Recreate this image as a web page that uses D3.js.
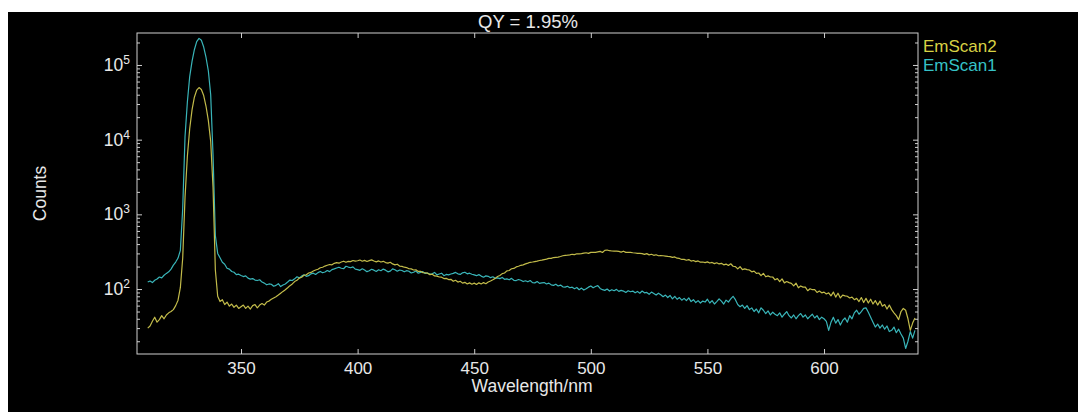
<!DOCTYPE html>
<html><head><meta charset="utf-8">
<script src="https://cdn.jsdelivr.net/npm/d3@7"></script>
<style>body{margin:0;background:#fff}svg{display:block}text{font-family:"Liberation Sans",Arial,sans-serif}</style>
</head><body><svg id="c" width="1078" height="412"></svg>
<script>
const title = "QY = 1.95%";
const xLabel = "Wavelength/nm";
const yLabel = "Counts";
const seriesNames = ["EmScan2", "EmScan1"];
const xTicks = [350, 400, 450, 500, 550, 600];
const yTickExps = [2, 3, 4, 5];
// sampling grid: 310 ... 639 nm, 1 nm steps
const wavelengths = d3.range(310, 640, 1);

const emScan1 = [
124,128,122,131,136,145,141,153,162,170,
185,209,230,260,330,1200,11000,32000,70000,112000,
160000,205000,227000,214000,174000,126000,83000,40000,6300,520,
300,262,228,215,190,185,172,168,156,158,
152,147,150,140,136,138,132,130,133,124,
120,114,117,116,109,112,118,108,113,117,
124,132,130,137,146,141,149,155,148,151,
160,163,157,166,172,165,169,177,171,182,
186,191,196,190,187,202,197,193,198,185,
182,178,187,180,171,176,184,179,172,181,
176,185,179,170,174,186,181,173,180,177,
170,176,173,164,168,174,163,167,171,162,
164,158,160,167,155,159,163,151,157,155,
159,162,167,160,157,165,168,160,163,158,
155,151,156,149,144,150,148,142,146,139,
141,138,143,135,137,133,139,131,130,134,
131,126,129,125,130,122,121,126,119,121,
122,117,120,114,112,116,110,113,107,106,
109,104,106,101,105,98,103,97,101,106,
110,104,108,111,102,98,96,100,94,98,
95,99,93,96,94,90,95,92,94,89,
93,88,94,89,90,85,91,87,83,88,
84,79,83,77,82,74,80,73,77,71,
75,70,76,68,72,66,70,65,69,67,
73,65,70,63,68,74,69,63,71,67,
74,80,72,62,58,61,55,60,53,56,
50,54,48,56,52,47,51,45,49,46,
44,48,42,46,50,44,41,45,40,44,
47,42,45,40,43,46,41,44,39,42,
40,37,28,36,42,35,39,33,38,41,
36,44,40,48,52,46,50,55,56,49,
42,36,31,34,30,33,29,32,27,28,
31,26,29,25,22,16,20,27,22,28
];

const emScan2 = [
30,32,37,42,36,39,44,40,45,48,
50,53,60,71,105,260,1700,6000,14000,25000,
37000,46000,49800,47000,39000,28000,18000,9500,2300,180,
80,68,72,62,67,59,63,57,61,55,
58,61,55,59,54,60,62,56,61,64,
61,67,69,73,76,79,83,88,93,98,
104,111,117,126,131,140,144,153,155,164,
167,174,180,184,193,196,203,208,213,211,
221,226,222,230,236,228,235,233,241,236,
239,245,236,242,234,240,246,237,231,238,
230,235,226,222,228,217,211,215,203,201,
196,194,187,186,180,181,172,173,166,165,
163,156,158,150,149,145,144,138,139,134,
135,127,131,124,127,120,123,117,121,116,
120,115,121,117,122,118,124,128,133,139,
147,152,161,164,175,177,187,189,198,202,
208,211,217,222,228,230,233,236,241,244,
248,251,257,257,264,266,268,273,279,282,
284,287,292,289,297,296,298,302,306,300,
310,311,309,314,319,309,330,333,326,323,
322,322,319,312,321,310,311,309,306,304,
301,301,298,291,298,287,292,283,288,279,
280,279,276,273,272,265,269,259,257,249,
250,243,248,237,241,233,238,229,230,226,
231,223,227,219,225,217,221,211,216,207,
218,202,200,186,199,182,186,182,180,170,
174,162,164,151,162,146,150,145,145,133,
138,126,137,121,126,122,119,110,120,104,
110,106,106,95,101,98,98,90,94,89,
91,86,89,81,91,78,88,76,83,81,
80,76,78,72,75,68,77,66,75,65,
73,63,70,61,69,59,62,54,61,53,
48,44,39,50,55,52,40,28,35,41
];

const svg = d3.select("#c");
const W = 1078, H = 412;
const L = 137, R = 918, T = 33, B = 354;
const axisColor = "#cfcfcf", textColor = "#e8e8e8";
const lineColors = {EmScan2: "#c2bb4a", EmScan1: "#39b5b9"};
const legendColors = {EmScan2: "#d8d244", EmScan1: "#36c2c7"};

svg.append("rect").attr("x", 8).attr("y", 12).attr("width", W - 8).attr("height", H - 12).attr("fill", "#000");

const x = d3.scaleLinear().domain([305.4, 640.3]).range([L, R]);
const y = d3.scaleLog().domain([13.5, 268000]).range([B, T]);

svg.append("clipPath").attr("id", "pc").append("rect")
  .attr("x", L).attr("y", T).attr("width", R - L).attr("height", B - T);

const line = d3.line().x((d, i) => x(wavelengths[i])).y(d => y(d));
const plot = svg.append("g").attr("clip-path", "url(#pc)");
plot.append("path").datum(emScan1).attr("d", line).attr("fill", "none")
  .attr("stroke", lineColors.EmScan1).attr("stroke-width", 1.2).attr("stroke-linejoin", "round");
plot.append("path").datum(emScan2).attr("d", line).attr("fill", "none")
  .attr("stroke", lineColors.EmScan2).attr("stroke-width", 1.2).attr("stroke-linejoin", "round");

function styleAxis(g) {
  g.select(".domain").remove();
  g.selectAll("line").attr("stroke", axisColor);
  g.selectAll("text").attr("fill", textColor).attr("font-size", 17)
    .attr("font-family", '"Liberation Sans",Arial,sans-serif');
}

svg.append("g").attr("transform", `translate(0,${B})`)
  .call(d3.axisBottom(x).tickValues(xTicks).tickSize(-5).tickSizeOuter(0).tickPadding(8))
  .call(styleAxis);
svg.append("g").attr("transform", `translate(0,${T})`)
  .call(d3.axisTop(x).tickValues(xTicks).tickSize(-5).tickSizeOuter(0).tickFormat(""))
  .call(styleAxis);

const majorY = yTickExps.map(e => Math.pow(10, e));
const minorY = y.ticks().filter(v => !majorY.includes(v));
[[d3.axisLeft, L], [d3.axisRight, R]].forEach(([ax, pos]) => {
  svg.append("g").attr("transform", `translate(${pos},0)`)
    .call(ax(y).tickValues(majorY).tickSize(-5).tickSizeOuter(0).tickFormat(""))
    .call(styleAxis);
  svg.append("g").attr("transform", `translate(${pos},0)`)
    .call(ax(y).tickValues(minorY).tickSize(-3).tickSizeOuter(0).tickFormat(""))
    .call(styleAxis);
});

const yl = svg.append("g");
yTickExps.forEach(e => {
  const t = yl.append("text").attr("x", 130).attr("y", y(Math.pow(10, e)) + 6)
    .attr("text-anchor", "end").attr("fill", textColor).attr("font-size", 17.5);
  t.append("tspan").text("10");
  t.append("tspan").attr("dy", -7).attr("font-size", 12).text(String(e));
});

svg.append("rect").attr("x", L).attr("y", T).attr("width", R - L).attr("height", B - T)
  .attr("fill", "none").attr("stroke", axisColor).attr("stroke-width", 1);

svg.append("text").attr("x", 528).attr("y", 28).attr("text-anchor", "middle")
  .attr("fill", textColor).attr("font-size", 18.5).text(title);
svg.append("text").attr("x", 532).attr("y", 392).attr("text-anchor", "middle")
  .attr("fill", textColor).attr("font-size", 17.5).text(xLabel);
svg.append("text").attr("transform", `translate(46,${(T + B) / 2}) rotate(-90)`)
  .attr("text-anchor", "middle").attr("fill", textColor).attr("font-size", 17.5).text(yLabel);

seriesNames.forEach((n, i) => {
  svg.append("text").attr("x", 923).attr("y", 52 + i * 18.5)
    .attr("fill", legendColors[n]).attr("font-size", 17).text(n);
});
</script></body></html>
